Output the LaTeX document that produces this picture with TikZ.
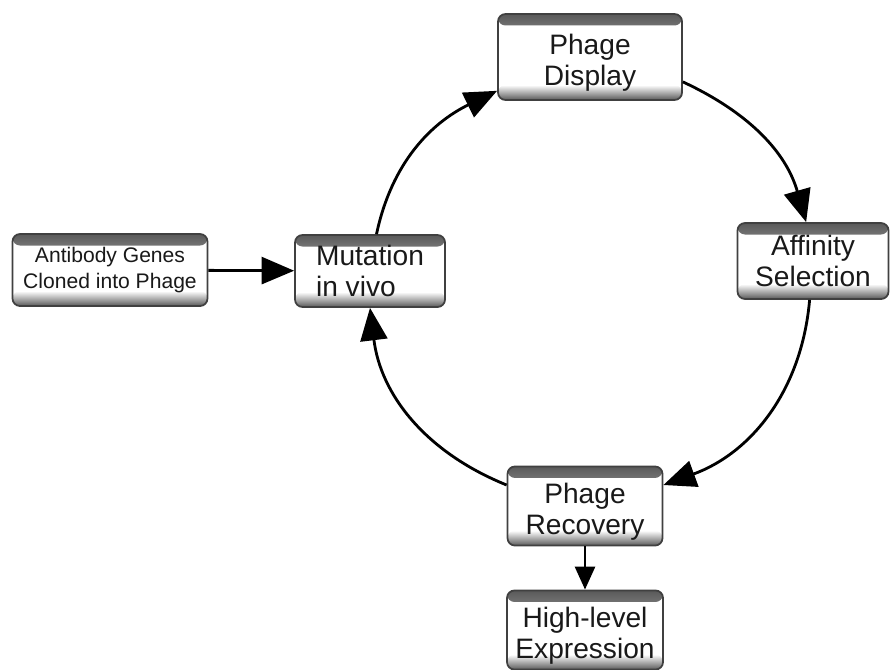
\documentclass[tikz,border=0pt]{standalone}
\usepackage{fontspec}
\setmainfont{Liberation Sans}
\usepackage{tikz}
\usetikzlibrary{arrows.meta,calc}
\tikzset{
  box/.style={draw=black!75, line width=1pt, rectangle, rounded corners=1.5mm, align=center, inner sep=1mm,
    font=\fontsize{16}{18}\selectfont, text=black!90, fill=white,
    path picture={
      \shade[top color=gray!70!black, bottom color=white] (path picture bounding box.north west) rectangle ([yshift=-2.3mm]path picture bounding box.north east);
      \shade[top color=white, bottom color=gray!70!black] ([yshift=3mm]path picture bounding box.south west) rectangle (path picture bounding box.south east);
    }},
  lowtext/.style={text height=36pt},
  arr/.style={-{Triangle[length=6.5mm, width=5.4mm]}, line width=1.6pt},
  smallarr/.style={-{Triangle[length=4.6mm, width=4mm]}, line width=1.6pt}
}

\begin{document}
\begin{tikzpicture}
\useasboundingbox (0,0) rectangle (17.82,13.38);
\node[box,lowtext,minimum width=3.68cm,minimum height=1.72cm] (display) at (11.8,12.24) {Phage\\Display};
\node[box,minimum width=3.02cm,minimum height=1.52cm] (affinity) at (16.26,8.16) {Affinity\\Selection};
\node[box,lowtext,minimum width=3.1cm,minimum height=1.54cm] (recovery) at (11.7,3.26) {Phage\\Recovery};
\node[box,lowtext,minimum width=3.12cm,minimum height=1.56cm] (express) at (11.7,0.78) {High-level\\Expression};
\node[box,minimum width=3.0cm,minimum height=1.44cm,align=left] (mutation) at (7.4,7.96) {Mutation\\in vivo};
\node[box,minimum width=3.9cm,minimum height=1.44cm,font=\fontsize{12}{15}\selectfont] (genes) at (2.2,7.98) {Antibody Genes\\Cloned into Phage};

\draw[arr] (mutation.80) to[out=78,in=206] (display.200);
\draw[arr] (display.-15) to[out=-25,in=106] (affinity.100);
\draw[arr] (affinity.265) to[out=-95,in=20] (recovery.15);
\draw[arr] (recovery.165) to[out=158,in=277] (mutation.south);
\draw[arr] (genes) -- (mutation);
\draw[smallarr] (recovery) -- (express);
\end{tikzpicture}
\end{document}
